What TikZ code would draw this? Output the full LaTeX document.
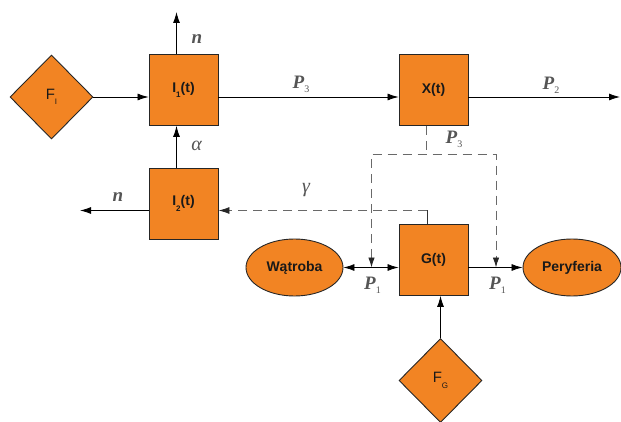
\documentclass[tikz,border=0pt]{standalone}
\usepackage{fontspec}
\setmainfont{Liberation Serif}
\setsansfont{Liberation Sans}
\usetikzlibrary{shapes,arrows,arrows.meta}
\definecolor{blockfill}{RGB}{242,132,35}
\definecolor{lblgray}{RGB}{85,85,85}
\definecolor{dashgray}{RGB}{105,105,105}
\tikzstyle{block} = [rectangle, draw=black!85, line width=0.9pt, fill=blockfill, text=black!90, minimum width=69pt, minimum height=71pt, inner sep=0pt, font=\sffamily\bfseries\fontsize{14}{16}\selectfont]
\tikzstyle{source} = [diamond, draw=black!85, line width=0.9pt, fill=blockfill, text=black!90, minimum width=83pt, minimum height=84pt, inner sep=0pt, font=\sffamily\fontsize{15}{17}\selectfont]
\tikzstyle{organ} = [ellipse, draw=black!85, line width=0.9pt, fill=blockfill, text=black!90, minimum width=97pt, minimum height=57pt, inner sep=0pt, font=\sffamily\bfseries\fontsize{14}{16}\selectfont]
\tikzstyle{line} = [draw, line width=0.8pt, -{Latex[length=11pt,width=7pt]}]
\tikzstyle{dline} = [draw=dashgray, line width=0.9pt, dash pattern=on 9pt off 6pt]
\tikzstyle{flow} = [text=lblgray, inner sep=0pt, font=\fontsize{19}{21}\selectfont\bfseries\itshape]
\tikzstyle{greek} = [text=lblgray, inner sep=0pt, font=\fontsize{20}{22}\selectfont\itshape]
\newcommand{\flowlbl}[2]{#1\raisebox{-0.45ex}{\fontsize{10}{10}\selectfont\mdseries\upshape #2}}
\newcommand{\boxsub}[1]{\raisebox{-0.7ex}{\fontsize{8}{8}\selectfont #1}}

\begin{document}
\begin{tikzpicture}[x=1pt, y=-1pt]
  \useasboundingbox (0,0) rectangle (621,422);

  \node [source] (fi) at (51.5,97) {F\boxsub{I}};
  \node [block] (i1) at (183.5,90) {I\boxsub{1}(t)};
  \node [block] (i2) at (183.5,203.5) {I\boxsub{2}(t)};
  \node [block] (x) at (433.5,90) {X(t)};
  \node [block] (g) at (433.5,260) {G(t)};
  \node [organ] (liver) at (294.5,267.5) {Wątroba};
  \node [organ, minimum width=98pt] (periph) at (572,267.5) {Peryferia};
  \node [source] (fg) at (440.5,380.5) {F\boxsub{G}};

  % free ends and branch points
  \coordinate (n1out) at (176.5,12);
  \coordinate (n2out) at (80,210.5);
  \coordinate (p2out) at (620,97);
  \coordinate (xtap) at (426.5,154);
  \coordinate (ltap) at (371.5,154);
  \coordinate (rtap) at (496,154);
  \coordinate (gtap) at (427,210.5);

  \path [line] (fi.east) -- (fi.east -| i1.west);
  \path [line] (i1.east |- fi.east) -- (x.west |- fi.east);
  \path [line] (x.east |- fi.east) -- (p2out);
  \path [line] (i1.north -| n1out) -- (n1out);
  \path [line] (i2.north -| n1out) -- (i1.south -| n1out);
  \path [line] (i2.west |- n2out) -- (n2out);
  \path [line, {Latex[length=11pt,width=7pt]}-{Latex[length=11pt,width=7pt]}] (liver.east) -- (liver.east -| g.west);
  \path [line] (g.east |- periph.west) -- (periph.west);
  \path [line] (fg.north) -- (fg.north |- g.south);

  % dashed flows
  \path [dline] (x.south -| xtap) -- (xtap);
  \path [dline, {Latex[length=10pt,width=6.5pt,color=black!85]}-{Latex[length=10pt,width=6.5pt,color=black!85]}] (ltap |- liver.east) -- (ltap) -- (rtap) -- (rtap |- periph.west);
  \draw [line width=0.8pt, draw=black!80] (g.north -| gtap) -- (gtap);
  \path [dline, -{Latex[length=11pt,width=7pt,color=black!85]}] (gtap) -- (gtap -| i2.east);

  \node [flow] (n1lbl) at (197,39) {n};
  \node [flow] (n2lbl) at (118,197) {n};
  \node [greek] (alpha) at (196.5,146) {α};
  \node [greek] (gamma) at (306,190) {γ};
  \node [flow] (p3lbl) at (301,84) {\flowlbl{P}{3}};
  \node [flow] (p2lbl) at (551,85) {\flowlbl{P}{2}};
  \node [flow] (p3xlbl) at (454,139) {\flowlbl{P}{3}};
  \node [flow] (p1llbl) at (372.5,285) {\flowlbl{P}{1}};
  \node [flow] (p1rlbl) at (497.5,285) {\flowlbl{P}{1}};
\end{tikzpicture}
\end{document}
